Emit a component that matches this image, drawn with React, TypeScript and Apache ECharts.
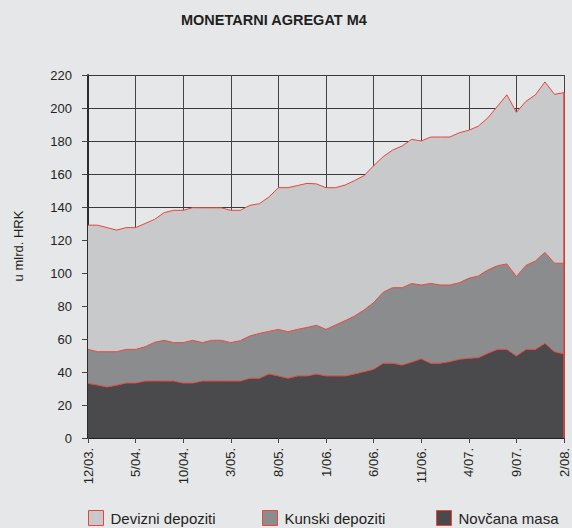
import React, { useEffect, useRef } from "react";
import * as echarts from "echarts";

const categories: string[] = [
  "12/03.", "1/04.", "2/04.", "3/04.", "4/04.", "5/04.", "6/04.", "7/04.", "8/04.", "9/04.", "10/04.", "11/04.",
  "12/04.", "1/05.", "2/05.", "3/05.", "4/05.", "5/05.", "6/05.", "7/05.", "8/05.", "9/05.", "10/05.", "11/05.",
  "12/05.", "1/06.", "2/06.", "3/06.", "4/06.", "5/06.", "6/06.", "7/06.", "8/06.", "9/06.", "10/06.", "11/06.",
  "12/06.", "1/07.", "2/07.", "3/07.", "4/07.", "5/07.", "6/07.", "7/07.", "8/07.", "9/07.", "10/07.", "11/07.",
  "12/07.", "1/08.", "2/08.",
];

const novcanaMasa: number[] = [
  33.1, 32.1, 30.9, 32.0, 33.3, 33.3, 34.5, 34.5, 34.5, 34.5, 33.3, 33.3,
  34.5, 34.5, 34.5, 34.5, 34.5, 36.2, 36.2, 38.8, 37.6, 36.2, 37.6, 37.6,
  38.8, 37.6, 37.6, 37.6, 38.8, 40.2, 41.6, 45.3, 45.3, 44.2, 46.0, 48.0,
  45.3, 45.3, 46.3, 47.7, 48.3, 48.7, 51.3, 53.7, 53.7, 49.7, 53.7, 53.7,
  57.4, 52.3, 50.9,
];

const kunskiDepoziti: number[] = [
  20.6, 20.2, 21.4, 20.3, 20.4, 20.4, 20.8, 23.5, 24.7, 23.3, 24.5, 25.9,
  23.3, 24.7, 24.7, 23.3, 24.5, 25.6, 27.2, 25.8, 28.2, 28.2, 28.2, 29.4,
  29.5, 28.2, 30.9, 33.5, 35.1, 37.4, 40.4, 43.0, 45.8, 46.9, 47.6, 44.7,
  48.4, 47.4, 46.4, 46.4, 48.5, 49.5, 50.5, 50.7, 51.8, 48.1, 50.9, 53.6,
  55.1, 53.6, 55.0,
];

const devizniDepoziti: number[] = [
  75.3, 76.7, 75.2, 73.7, 73.8, 73.8, 74.7, 74.5, 77.4, 80.2, 80.2, 80.4,
  81.7, 80.3, 80.3, 80.2, 79.0, 79.2, 78.6, 81.4, 85.9, 87.3, 87.2, 87.3,
  85.7, 85.9, 83.2, 82.2, 82.1, 81.4, 83.0, 82.2, 83.4, 85.9, 87.4, 87.3,
  88.7, 89.7, 89.7, 90.9, 89.7, 90.8, 92.2, 96.6, 102.5, 99.6, 99.4, 100.7,
  103.3, 102.4, 103.4,
];

const yTicks = { min: 0, max: 220, interval: 20 };

const BG = "#e6e7e9";
const RED = "#e8453c";
const TEXT = "#231f20";
const FONT = "'Liberation Sans', Arial, sans-serif";

const colors = {
  devizni: "#c8c9cb",
  kunski: "#8b8c8e",
  novcana: "#4a4a4c",
};

export default function App() {
  const ref = useRef<HTMLDivElement>(null);

  useEffect(() => {
    if (!ref.current) return;
    const chart = echarts.init(ref.current, undefined, { renderer: "svg" });
    const lastIdx = categories.length - 1;
    const lastTop =
      novcanaMasa[lastIdx] + kunskiDepoziti[lastIdx] + devizniDepoziti[lastIdx];

    const mkSeries = (name: string, data: number[], color: string) => ({
      name,
      type: "line",
      stack: "m4",
      data,
      showSymbol: false,
      symbol: "none",
      lineStyle: { color: RED, width: 1 },
      itemStyle: { color, borderColor: RED, borderWidth: 1 },
      areaStyle: { color, opacity: 1 },
      z: 3,
    });

    const mkLegend = (name: string, color: string, left: number) => ({
      left,
      top: 510,
      padding: 0,
      icon: "rect",
      itemWidth: 15,
      itemHeight: 15,
      itemGap: 0,
      selectedMode: false,
      textStyle: { fontSize: 15, color: TEXT, fontFamily: FONT, padding: [0, 0, 0, 2] },
      data: [
        {
          name,
          icon: "rect",
          itemStyle: { color, borderColor: RED, borderWidth: 1 },
        },
      ],
    });

    chart.setOption({
      animation: false,
      backgroundColor: BG,
      title: {
        text: "MONETARNI AGREGAT M4",
        left: 181,
        top: 12,
        padding: 0,
        textStyle: { fontSize: 14.5, fontWeight: "bold", color: TEXT, fontFamily: FONT },
      },
      legend: [
        mkLegend("Devizni depoziti", colors.devizni, 88),
        mkLegend("Kunski depoziti", colors.kunski, 262),
        mkLegend("Novčana masa", colors.novcana, 436),
      ],
      grid: { left: 88, right: 8, top: 75, bottom: 90, containLabel: false },
      xAxis: {
        type: "category",
        data: categories,
        boundaryGap: false,
        axisLine: { show: true, lineStyle: { color: "#231f20", width: 2 } },
        axisTick: { show: true, interval: 4, length: 5, lineStyle: { color: "#444", width: 1 } },
        axisLabel: {
          interval: 4,
          rotate: 90,
          fontSize: 13,
          color: TEXT,
          fontFamily: FONT,
          margin: 10,
        },
        splitLine: { show: true, interval: 4, lineStyle: { color: "#444", width: 1 } },
      },
      yAxis: {
        type: "value",
        min: yTicks.min,
        max: yTicks.max,
        interval: yTicks.interval,
        axisLine: { show: true, lineStyle: { color: "#2a2a2a", width: 2 } },
        axisTick: { show: true, length: 6, lineStyle: { color: "#444", width: 1 } },
        axisLabel: { fontSize: 13, color: TEXT, fontFamily: FONT, margin: 16 },
        splitLine: { show: true, lineStyle: { color: "#3a3a3a", width: 1 } },
      },
      graphic: [
        {
          type: "text",
          x: 18,
          y: 246,
          rotation: Math.PI / 2,
          style: {
            text: "u mlrd. HRK",
            fontSize: 13,
            fill: TEXT,
            fontFamily: FONT,
            align: "center",
            verticalAlign: "middle",
          },
        },
      ],
      series: [
        mkSeries("Novčana masa", novcanaMasa, colors.novcana),
        mkSeries("Kunski depoziti", kunskiDepoziti, colors.kunski),
        mkSeries("Devizni depoziti", devizniDepoziti, colors.devizni),
        {
          name: "edge",
          type: "line",
          data: [
            [categories[lastIdx], 0],
            [categories[lastIdx], lastTop],
          ],
          showSymbol: false,
          symbol: "none",
          lineStyle: { color: RED, width: 1.5 },
          z: 4,
          silent: true,
        },
      ],
    });

    return () => chart.dispose();
  }, []);

  return (
    <div
      ref={ref}
      style={{ position: "fixed", left: 0, top: 0, width: 572, height: 528 }}
    />
  );
}
